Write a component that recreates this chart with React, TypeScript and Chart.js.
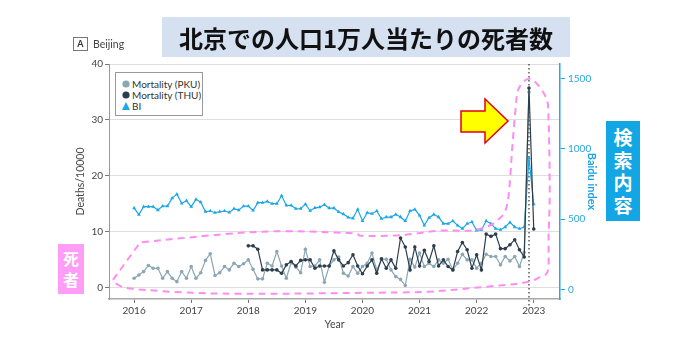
import React, { useEffect, useRef } from "react";
import { Chart, registerables } from "chart.js";

Chart.register(...registerables);

// ---- data ----
const START_YEAR = 2016;
const yearTicks = [2016, 2017, 2018, 2019, 2020, 2021, 2022, 2023];
const leftTicks = [0, 10, 20, 30, 40];
const rightTicks = [0, 500, 1000, 1500];

// Baidu index, monthly from Jan 2016 to Jan 2023
const biValues = [
  578, 531, 588, 588, 588, 564, 592, 592, 649, 677, 611, 630, 588, 640, 620, 552, 557, 545, 552, 557, 547, 573, 563,
  592, 592, 561, 616, 616, 625, 609, 609, 666, 597, 597, 573, 573, 606, 559, 580, 585, 602, 578, 578, 550, 535, 512,
  505, 569, 486, 545, 538, 557, 502, 514, 514, 533, 514, 486, 557, 569, 526, 455, 509, 533, 514, 467, 467, 486,
  455, 431, 467, 479, 419, 424, 486, 467, 431, 424, 443, 476, 443, 431, 443, 933, 606,
];

// Mortality (PKU), monthly from Jan 2016 to Dec 2022
const pkuValues = [
  1.7, 2.3, 2.9, 4.0, 3.5, 3.5, 1.7, 2.9, 1.7, 1.1, 2.9, 1.7, 3.8, 1.7, 2.7, 4.9, 6.1, 2.2, 2.7, 3.8, 3.2, 4.4, 3.8,
  4.3, 5.0, 3.3, 1.6, 1.6, 4.4, 3.9, 6.5, 3.9, 1.7, 4.5, 3.7, 2.7, 6.9, 3.8, 3.9, 5.0, 1.0, 3.9, 5.0, 5.5, 2.6, 2.1,
  3.8, 2.6, 3.8, 4.4, 6.2, 3.2, 5.1, 5.1, 3.2, 2.0, 1.5, 0.4, 5.1, 3.7, 6.2, 3.8, 4.4, 3.8, 5.0, 4.4, 5.1, 3.2, 4.4,
  6.0, 5.0, 5.0, 3.5, 4.4, 6.0, 5.6, 5.6, 4.1, 5.6, 4.8, 5.6, 3.8, 6.3, 35.0,
];

// Mortality (THU), monthly from Jan 2018 to Jan 2023
const thuStartMonth = 24;
const thuValues = [
  7.5, 7.5, 6.9, 3.2, 3.2, 3.2, 3.2, 2.6, 4.1, 4.7, 3.9, 4.9, 5.0, 5.0, 3.5, 3.9, 3.9, 3.9, 6.6, 5.0, 3.9, 4.5,
  5.9, 3.9, 2.5, 3.9, 5.0, 2.6, 5.2, 3.5, 5.0, 3.5, 8.9, 7.3, 3.2, 7.3, 3.9, 6.7, 4.7, 7.5, 3.9, 5.0, 3.8, 3.2, 6.5,
  8.1, 6.8, 3.5, 5.9, 3.2, 9.6, 9.2, 9.6, 7.0, 7.0, 7.7, 8.6, 6.8, 5.5, 35.7, 10.5,
];

// Dec 2022 marker
const markerMonth = 83;

// pink dashed outline (year, deaths/10000)
const outlineYears = [
  2015.63, 2016.105, 2018.16, 2019.74, 2020.0, 2020.67, 2021.33, 2021.84, 2022.12, 2022.37, 2022.54, 2022.63,
  2022.68, 2022.74, 2022.95, 2023.21, 2023.26, 2023.28, 2023.26, 2023.25, 2023.12, 2022.82, 2021.95, 2021.14,
  2019.96, 2018.21, 2017.04, 2015.98, 2015.72,
];
const outlineValues = [
  1.43, 8.1, 10.0, 9.8, 9.3, 9.4, 10.2, 10.2, 10.7, 12.1, 15.2, 25.9,
  31.8, 35.7, 37.3, 34.1, 30.0, 17.0, 9.1, 3.2, 2.0, 0.9, 0.0, -0.7,
  -0.9, -1.07, -0.9, -0.18, 0.54,
];
const outlineCorners = [0, 1];

const COLOR_PKU = "#8ba7b4";
const COLOR_THU = "#2c3e4c";
const COLOR_BI = "#1ea7e4";
const COLOR_PINK = "#ff8cf2";
const FONT = "Lato, 'Noto Sans', sans-serif";

const monthX = (i: number) => START_YEAR + i / 12;

const markerPlugin = {
  id: "markerLine",
  beforeDatasetsDraw(chart: any) {
    const { ctx, chartArea, scales } = chart;
    const x = scales.x.getPixelForValue(monthX(markerMonth));
    ctx.save();
    ctx.strokeStyle = "#333";
    ctx.lineWidth = 1.2;
    ctx.setLineDash([1.5, 2.5]);
    ctx.beginPath();
    ctx.moveTo(x, chartArea.top);
    ctx.lineTo(x, chartArea.bottom + 7);
    ctx.stroke();
    ctx.restore();
  },
};

const outlinePlugin = {
  id: "outline",
  afterDatasetsDraw(chart: any) {
    const { ctx, scales } = chart;
    const pts = outlineYears.map((yr, i) => ({
      x: scales.x.getPixelForValue(yr),
      y: scales.y.getPixelForValue(outlineValues[i]),
      c: outlineCorners.includes(i),
    }));
    const n = pts.length;
    ctx.save();
    ctx.strokeStyle = COLOR_PINK;
    ctx.lineWidth = 2;
    ctx.setLineDash([7, 5]);
    ctx.lineJoin = "round";
    ctx.beginPath();
    ctx.moveTo(pts[0].x, pts[0].y);
    for (let i = 0; i < n; i++) {
      const p0 = pts[(i - 1 + n) % n];
      const p1 = pts[i];
      const p2 = pts[(i + 1) % n];
      const p3 = pts[(i + 2) % n];
      let c1x = p1.x + (p2.x - p0.x) / 6;
      let c1y = p1.y + (p2.y - p0.y) / 6;
      let c2x = p2.x - (p3.x - p1.x) / 6;
      let c2y = p2.y - (p3.y - p1.y) / 6;
      if (p1.c) { c1x = p1.x; c1y = p1.y; }
      if (p2.c) { c2x = p2.x; c2y = p2.y; }
      ctx.bezierCurveTo(c1x, c1y, c2x, c2y, p2.x, p2.y);
    }
    ctx.closePath();
    ctx.stroke();
    ctx.restore();
  },
};

export default function App() {
  const canvasRef = useRef<HTMLCanvasElement | null>(null);

  useEffect(() => {
    if (!canvasRef.current) return;
    const biData = biValues.map((v, i) => ({ x: monthX(i), y: v }));
    const pkuData = pkuValues.map((v, i) => ({ x: monthX(i), y: v }));
    const thuData = thuValues.map((v, i) => ({ x: monthX(thuStartMonth + i), y: v }));

    const chart = new Chart(canvasRef.current, {
      type: "line",
      data: {
        datasets: [
          {
            label: "Mortality (THU)",
            data: thuData,
            yAxisID: "y",
            borderColor: COLOR_THU,
            backgroundColor: COLOR_THU,
            borderWidth: 1.2,
            pointRadius: 1.8,
            pointStyle: "circle",
            pointBorderWidth: 0,
            tension: 0,
          },
          {
            label: "Mortality (PKU)",
            data: pkuData,
            yAxisID: "y",
            borderColor: COLOR_PKU,
            backgroundColor: COLOR_PKU,
            borderWidth: 1.2,
            pointRadius: 1.8,
            pointStyle: "circle",
            pointBorderWidth: 0,
            tension: 0,
          },
          {
            label: "BI",
            data: biData,
            yAxisID: "y2",
            borderColor: COLOR_BI,
            backgroundColor: COLOR_BI,
            borderWidth: 1.2,
            pointRadius: 2.2,
            pointStyle: "triangle",
            pointBorderWidth: 0,
            tension: 0,
          },
        ],
      },
      options: {
        responsive: false,
        animation: false,
        parsing: true,
        layout: { padding: { left: 70, right: 93, top: 64, bottom: 11 } },
        plugins: { legend: { display: false }, tooltip: { enabled: false } },
        scales: {
          x: {
            type: "linear",
            position: "bottom",
            min: 2015.56,
            max: 2023.46,
            afterBuildTicks: (s: any) => { s.ticks = yearTicks.map((v) => ({ value: v })); },
            afterFit: (s: any) => { s.height = 32; },
            ticks: {
              callback: (v: any) => String(v),
              color: "#444",
              font: { family: FONT, size: 10 },
              padding: 2,
              maxRotation: 0,
            },
            grid: { drawOnChartArea: false, drawTicks: true, tickLength: 4, tickColor: "#777" },
            border: { color: "#aaa", width: 1.5 },
            title: {
              display: true,
              text: "Year",
              color: "#444",
              font: { family: FONT, size: 10.5 },
              padding: { top: 2, bottom: 0 },
            },
          },
          y: {
            type: "linear",
            position: "left",
            min: -2,
            max: 40,
            afterBuildTicks: (s: any) => { s.ticks = leftTicks.map((v) => ({ value: v })); },
            afterFit: (s: any) => { s.width = 39; },
            ticks: {
              callback: (v: any) => String(v),
              color: "#444",
              font: { family: FONT, size: 10 },
              padding: 2,
            },
            grid: { color: "#dedede", lineWidth: 1, tickLength: 4, tickColor: "#777" },
            border: { color: "#999", width: 1 },
            title: {
              display: true,
              text: "Deaths/10000",
              color: "#444",
              font: { family: FONT, size: 10.5 },
              padding: { top: 4, bottom: 4 },
            },
          },
          y2: {
            type: "linear",
            position: "right",
            min: -69,
            max: 1603,
            afterBuildTicks: (s: any) => { s.ticks = rightTicks.map((v) => ({ value: v })); },
            afterFit: (s: any) => { s.width = 42; },
            ticks: {
              callback: (v: any) => String(v),
              color: "#29a8e0",
              font: { family: FONT, size: 10 },
              padding: 3,
            },
            grid: { drawOnChartArea: false, drawTicks: true, tickLength: 5, tickColor: "#29a8e0" },
            border: { color: "#29a8e0", width: 1.5 },
            title: {
              display: true,
              text: "Baidu index",
              color: "#1ba1e2",
              font: { family: FONT, size: 11, weight: "bold" },
              padding: { top: 4, bottom: 4 },
            },
          },
        },
      },
      plugins: [markerPlugin, outlinePlugin],
    } as any);

    return () => chart.destroy();
  }, []);

  const legendRow = (top: number, marker: React.ReactNode, text: string) => (
    <div style={{ position: "absolute", left: 5, top: top - 6, height: 12, display: "flex", alignItems: "center" }}>
      <svg width={10} height={10} style={{ marginRight: 1 }}>{marker}</svg>
      <span style={{ fontFamily: FONT, fontSize: 10, color: "#333", lineHeight: "12px", whiteSpace: "nowrap" }}>{text}</span>
    </div>
  );

  return (
    <div style={{ position: "fixed", left: 0, top: 0, width: 695, height: 342, background: "#fff", overflow: "hidden" }}>
      <canvas ref={canvasRef} width={695} height={342} style={{ display: "block", width: 695, height: 342 }} />

      {/* panel label */}
      <div style={{ position: "absolute", left: 73, top: 37, width: 13, height: 12, border: "1px solid #777", fontFamily: FONT, fontSize: 9, fontWeight: "bold", color: "#333", textAlign: "center", lineHeight: "12px" }}>A</div>
      <div style={{ position: "absolute", left: 93, top: 37, fontFamily: FONT, fontSize: 10.5, color: "#444", lineHeight: "14px" }}>Beijing</div>

      {/* title box */}
      <div style={{ position: "absolute", left: 162, top: 17, width: 408, height: 40, background: "#d5e0f1", display: "flex", alignItems: "center", justifyContent: "center", fontFamily: "'Noto Sans CJK JP', sans-serif", fontSize: 24, fontWeight: "bold", color: "#111" }}>
        北京での人口1万人当たりの死者数
      </div>

      {/* legend */}
      <div style={{ position: "absolute", left: 115, top: 72, width: 86, height: 42, border: "1px solid #999", background: "#fff" }}>
        {legendRow(11, <circle cx={5} cy={5} r={3.6} fill={COLOR_PKU} />, "Mortality (PKU)")}
        {legendRow(22, <circle cx={5} cy={5} r={3.6} fill={COLOR_THU} />, "Mortality (THU)")}
        {legendRow(33, <polygon points="5,1 9,9 1,9" fill={COLOR_BI} />, "BI")}
      </div>

      {/* arrow */}
      <svg style={{ position: "absolute", left: 0, top: 0 }} width={695} height={342}>
        <polygon points="461,111 485,111 485,99 508,121 485,143 485,132 461,132" fill="#ffff00" stroke="#e3000f" strokeWidth={1.5} />
      </svg>

      {/* pink label */}
      <div style={{ position: "absolute", left: 58, top: 244, width: 26, height: 50, background: "#ff9cf5", display: "flex", flexDirection: "column", alignItems: "center", justifyContent: "center", fontFamily: "'Noto Sans CJK JP', sans-serif", fontSize: 16, fontWeight: "bold", color: "#fff", lineHeight: "21px" }}>
        <span>死</span>
        <span>者</span>
      </div>

      {/* blue label */}
      <div style={{ position: "absolute", left: 606, top: 121, width: 34, height: 100, background: "#13a6e4", display: "flex", flexDirection: "column", alignItems: "center", justifyContent: "center", fontFamily: "'Noto Sans CJK JP', sans-serif", fontSize: 19, fontWeight: "bold", color: "#fff", lineHeight: "22.5px" }}>
        <span>検</span>
        <span>索</span>
        <span>内</span>
        <span>容</span>
      </div>
    </div>
  );
}
